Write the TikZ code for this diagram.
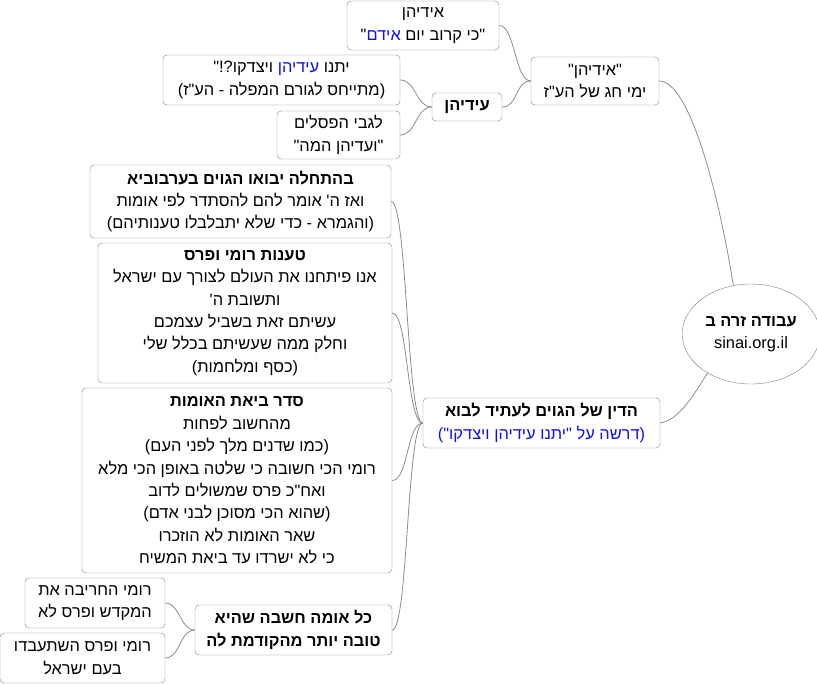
\documentclass[tikz,border=0pt]{standalone}
\usepackage{fontspec}
\setmainfont{Liberation Sans}
\newfontfamily\hebfont[Script=Hebrew]{Liberation Sans}
\newfontfamily\hebbluefont[Script=Hebrew, Color=1010F0]{Liberation Sans}
\TeXXeTstate=1
\usetikzlibrary{shapes.geometric}
\definecolor{framegray}{HTML}{808080}
\definecolor{linkgray}{HTML}{8C8C8C}
\newcommand{\hebline}[1]{\mbox{\beginR#1\endR}}
\newcommand{\hubline}[1]{{\fboxrule=0pt\fbox{#1}}}
\newcommand{\blueword}[1]{{\hebbluefont\fontsize{16.4}{22.4}\selectfont#1}}

\begin{document}
\begin{tikzpicture}[
    x=1pt, y=-1pt,
    idea/.style={rectangle, rounded corners=4pt, draw=framegray, fill=white, align=center, inner sep=0pt, font=\hebfont\fontsize{16.4}{22.4}\selectfont},
    hub/.style={ellipse, draw=framegray, fill=white, align=center, inner sep=0pt, minimum width=122, minimum height=100, font=\hebfont\fontsize{16.4}{22.4}\selectfont},
    link/.style={draw=linkgray, line width=0.8pt}
  ]
    \useasboundingbox (0,0) rectangle (817,684);

    \node[hub] (root) at (751,334) {\hubline{\hebline{\bfseries עבודה זרה ב}}\\\hubline{sinai.org.il}};

    \node[idea, minimum width=128, minimum height=48] (chag) at (595,81) {\hebline{"אידיהן"}\\\hebline{ימי חג של הע"ז}};
    \node[idea, minimum width=152, minimum height=49] (idam) at (423,25.5) {\hebline{אידיהן}\\\hebline{"כי קרוב יום \blueword{אידם}"}};
    \node[idea, minimum width=70, minimum height=28] (eidehen) at (467,107) {\hebline{\bfseries עידיהן}};
    \node[idea, minimum width=237, minimum height=50] (yitnu) at (281.5,80) {\hebline{יתנו \blueword{עידיהן} ויצדקו?!"}\\\hebline{(מתייחס לגורם המפלה - הע"ז)}};
    \node[idea, minimum width=123, minimum height=48] (pesilim) at (338.5,135) {\hebline{לגבי הפסלים}\\\hebline{"ועדיהן המה"}};

    \node[idea, minimum width=237, minimum height=50] (din) at (541.5,423) {\hebline{\bfseries הדין של הגוים לעתיד לבוא}\\\hebline{\blueword{(דרשה על "יתנו עידיהן ויצדקו")}}};
    \node[idea, minimum width=301, minimum height=73] (rishon) at (240.5,201.5) {\hebline{\bfseries בהתחלה יבואו הגוים בערבוביא}\\\hebline{ואז ה' אומר להם להסתדר לפי אומות}\\\hebline{(והגמרא - כדי שלא יתבלבלו טענותיהם)}};
    \node[idea, minimum width=294, minimum height=140] (taanot) at (245,313) {\hebline{\bfseries טענות רומי ופרס}\\\hebline{אנו פיתחנו את העולם לצורך עם ישראל}\\\hebline{ותשובת ה'}\\\hebline{עשיתם זאת בשביל עצמכם}\\\hebline{וחלק ממה שעשיתם בכלל שלי}\\\hebline{(כסף ומלחמות)}};
    \node[idea, minimum width=310, minimum height=185] (seder) at (237,480.5) {\hebline{\bfseries סדר ביאת האומות}\\\hebline{מהחשוב לפחות}\\\hebline{(כמו שדנים מלך לפני העם)}\\\hebline{רומי הכי חשובה כי שלטה באופן הכי מלא}\\\hebline{ואח"כ פרס שמשולים לדוב}\\\hebline{(שהוא הכי מסוכן לבני אדם)}\\\hebline{שאר האומות לא הוזכרו}\\\hebline{כי לא ישרדו עד ביאת המשיח}};
    \node[idea, minimum width=197, minimum height=50] (kol) at (293.5,630) {\hebline{\bfseries כל אומה חשבה שהיא}\\\hebline{\bfseries טובה יותר מהקודמת לה}};
    \node[idea, minimum width=140, minimum height=50] (hecheriva) at (95,603) {\hebline{רומי החריבה את}\\\hebline{המקדש ופרס לא}};
    \node[idea, minimum width=165, minimum height=50] (shiabdu) at (82.5,658) {\hebline{רומי ופרס השתעבדו}\\\hebline{בעם ישראל}};

    \draw[link] (root.110) .. controls +(-14,-88) and +(31,0) .. (chag.east);
    \draw[link] (root.222) .. controls +(-12,18) and +(20,-3) .. (din.east);

    \draw[link] (chag.west) .. controls +(-16,0) and +(16,0) .. (idam.east);
    \draw[link] (chag.west) .. controls +(-16,0) and +(16,0) .. (eidehen.east);
    \draw[link] (eidehen.west) .. controls +(-16,0) and +(16,0) .. (yitnu.east);
    \draw[link] (eidehen.west) .. controls +(-16,0) and +(16,0) .. (pesilim.east);

    \draw[link] (din.west) .. controls +(-16,0) and +(16,0) .. (rishon.east);
    \draw[link] (din.west) .. controls +(-16,0) and +(16,0) .. (taanot.east);
    \draw[link] (din.west) .. controls +(-16,0) and +(16,0) .. (seder.east);
    \draw[link] (din.west) .. controls +(-16,0) and +(16,0) .. (kol.east);

    \draw[link] (kol.west) .. controls +(-15,0) and +(15,0) .. (hecheriva.east);
    \draw[link] (kol.west) .. controls +(-15,0) and +(15,0) .. (shiabdu.east);
  \end{tikzpicture}
\end{document}
